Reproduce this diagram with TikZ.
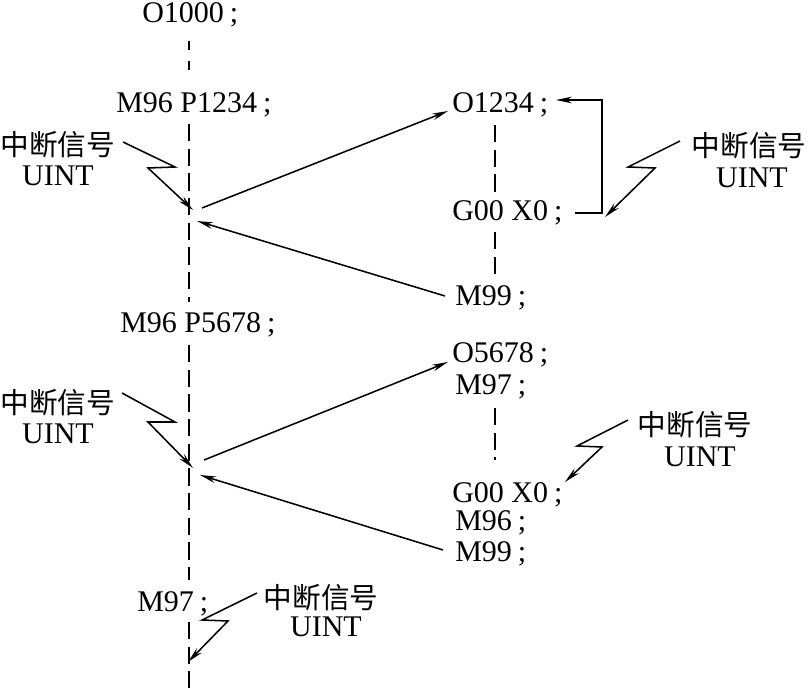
\documentclass[tikz,border=0pt]{standalone}
\usepackage{fontspec}
\setmainfont{Liberation Serif}
\newfontfamily\cjk{Noto Sans CJK SC}
\usetikzlibrary{arrows.meta}
\newcommand{\semi}{\hspace{0.2em};}
\begin{document}
\begin{tikzpicture}[x=0.75pt,y=-0.75pt,
  txt/.style={inner sep=0pt,anchor=base west,font=\fontsize{22.5}{27}\selectfont},
  cn/.style={inner sep=0pt,font=\cjk\fontsize{21.5}{26}\selectfont},
  uint/.style={inner sep=0pt,anchor=base,font=\fontsize{22.5}{27}\selectfont},
  dline/.style={line width=1.2pt,dash pattern=on 13pt off 5.5pt},
  sdline/.style={line width=1.2pt,dash pattern=on 7pt off 8pt},
  arr/.style={line width=1.15pt,-{Stealth[length=12pt,width=5pt]}},
]
\useasboundingbox (0,0) rectangle (808,688);
% left column
\node[txt] (o1000) at (142,23) {O1000\semi};
\node[txt] (m96a) at (116,113) {M96 P1234\semi};
\node[txt] (m96b) at (120,333) {M96 P5678\semi};
\node[txt] (m97a) at (137,611) {M97\semi};
% right column
\node[txt] (o1234) at (452,113) {O1234\semi};
\node[txt] (g00a) at (452,221) {G00 X0\semi};
\node[txt] (m99a) at (455,306) {M99\semi};
\node[txt] (o5678) at (452,363) {O5678\semi};
\node[txt] (m97b) at (455,395) {M97\semi};
\node[txt] (g00b) at (452,502) {G00 X0\semi};
\node[txt] (m96c) at (455,530) {M96\semi};
\node[txt] (m99b) at (455,561) {M99\semi};
% interrupt labels
\node[cn] (c1) at (58,145) {中断信号};
\node[uint] (u1) at (58,186) {UINT};
\node[cn] (c2) at (749,146) {中断信号};
\node[uint] (u2) at (752,188) {UINT};
\node[cn] (c3) at (58,403) {中断信号};
\node[uint] (u3) at (58,443) {UINT};
\node[cn] (c4) at (695,425) {中断信号};
\node[uint] (u4) at (700,466) {UINT};
\node[cn] (c5) at (321,598) {中断信号};
\node[uint] (u5) at (326,636) {UINT};
% dashed program lines
\coordinate (p1) at (189,41);  \coordinate (p2) at (189,73);
\coordinate (p3) at (189,124); \coordinate (p4) at (189,302);
\coordinate (p5) at (189,345); \coordinate (p6) at (189,580);
\coordinate (p7) at (189,622); \coordinate (p8) at (189,688);
\coordinate (q1) at (495,125); \coordinate (q2) at (495,195);
\coordinate (q3) at (495,232); \coordinate (q4) at (495,276);
\coordinate (q5) at (495,408); \coordinate (q6) at (495,460);
\draw[sdline] (p1) -- (p2);
\draw[dline] (p3) -- (p4);
\draw[dline] (p5) -- (p6);
\draw[dline] (p7) -- (p8);
\draw[dline] (q1) -- (q2);
\draw[dline] (q3) -- (q4);
\draw[dline] (q5) -- (q6);
% call / return arrows
\coordinate (j1) at (202,208); \coordinate (t1) at (448,111);
\coordinate (j2) at (445,296); \coordinate (t2) at (197,221);
\coordinate (j3) at (204,460); \coordinate (t3) at (448,362);
\coordinate (j4) at (443,550); \coordinate (t4) at (200,475);
\draw[arr] (j1) -- (t1);
\draw[arr] (j2) -- (t2);
\draw[arr] (j3) -- (t3);
\draw[arr] (j4) -- (t4);
% bracket loop
\coordinate (b1) at (575,213); \coordinate (b2) at (602,213);
\coordinate (b3) at (602,100); \coordinate (b4) at (556,100);
\draw[arr] (b1) -- (b2) -- (b3) -- (b4);
% lightning arrows
\draw[arr] (123,142) -- (175,167) -- (148,168) -- (193,210);
\draw[arr] (122,393) -- (175,422) -- (148,422) -- (193,468);
\draw[arr] (680,141) -- (628,167) -- (655,168) -- (605,217);
\draw[arr] (628,420) -- (577,446) -- (602,447) -- (565,482);
\draw[arr] (257,593) -- (202,620) -- (228,621) -- (188,662);
\end{tikzpicture}
\end{document}
